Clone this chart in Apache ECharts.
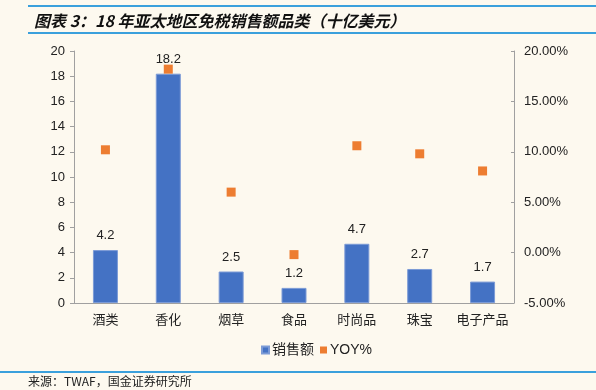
<!DOCTYPE html>
<html>
<head>
<meta charset="utf-8">
<script src="https://cdn.jsdelivr.net/npm/echarts@6/dist/echarts.min.js"></script>
<style>
  html, body { margin: 0; padding: 0; background: #fdf9ef; }
  #root { width: 596px; height: 390px; }
</style>
</head>
<body>
<div id="root"></div>
<script>
const categories = ['酒类', '香化', '烟草', '食品', '时尚品', '珠宝', '电子产品']
const sales = [4.2, 18.2, 2.5, 1.2, 4.7, 2.7, 1.7]
const yoy = [10.2, 18.2, 6.0, -0.2, 10.6, 9.8, 8.1]

const font = '"Liberation Sans", "Noto Sans CJK SC", sans-serif'
const lineBlue = '#3aa0dc'

const chart = echarts.init(document.getElementById('root'))

const option = {
  backgroundColor: '#fdf9ef',
  animation: false,
  textStyle: { fontFamily: font },
  title: {
    text: '图表 3：18 年亚太地区免税销售额品类（十亿美元）',
    left: 29,
    top: 8,
    textStyle: {
      fontFamily: '"Noto Sans CJK SC", sans-serif',
      fontSize: 16,
      fontStyle: 'italic',
      fontWeight: 'bold',
      color: '#111'
    }
  },
  graphic: [
    { type: 'rect', shape: { x: 28, y: 5, width: 568, height: 2 }, style: { fill: lineBlue } },
    { type: 'rect', shape: { x: 28, y: 32, width: 568, height: 2 }, style: { fill: lineBlue } },
    { type: 'rect', shape: { x: 0, y: 371, width: 596, height: 2 }, style: { fill: lineBlue } },
    {
      type: 'text',
      left: 28,
      top: 375,
      style: {
        text: '来源：TWAF，国金证券研究所',
        fontFamily: '"Noto Sans CJK SC", sans-serif',
        fontSize: 12,
        fill: '#222'
      }
    }
  ],
  grid: { left: 74, right: 82, top: 51, bottom: 87 },
  legend: {
    bottom: 28,
    left: 256,
    icon: 'rect',
    itemWidth: 7,
    itemHeight: 7,
    itemGap: 6,
    textStyle: { fontSize: 14, color: '#222', padding: [0, 0, 0, -2] },
    data: ['销售额', 'YOY%']
  },
  xAxis: {
    type: 'category',
    data: categories,
    axisLine: { lineStyle: { color: '#a0a0a0' } },
    axisTick: { length: 4, lineStyle: { color: '#a0a0a0' } },
    axisLabel: { interval: 0, fontSize: 13, color: '#222', margin: 11 }
  },
  yAxis: [
    {
      type: 'value',
      min: 0,
      max: 20,
      interval: 2,
      splitLine: { show: false },
      axisLine: { show: true, lineStyle: { color: '#a0a0a0' } },
      axisTick: { show: true, length: 4, lineStyle: { color: '#a0a0a0' } },
      axisLabel: { fontSize: 13, color: '#222', margin: 9 }
    },
    {
      type: 'value',
      min: -5,
      max: 20,
      interval: 5,
      splitLine: { show: false },
      axisLine: { show: true, lineStyle: { color: '#a0a0a0' } },
      axisTick: { show: true, inside: true, length: 3, lineStyle: { color: '#a0a0a0' } },
      axisLabel: {
        fontSize: 13,
        color: '#222',
        margin: 10,
        formatter: v => v.toFixed(2) + '%'
      }
    }
  ],
  series: [
    {
      name: '销售额',
      type: 'bar',
      data: sales,
      barWidth: 25,
      itemStyle: { color: '#4472c4', borderColor: '#7c9bd6', borderWidth: 1 },
      label: { show: true, position: 'top', fontSize: 13, color: '#222', distance: 8 }
    },
    {
      name: 'YOY%',
      type: 'scatter',
      yAxisIndex: 1,
      data: yoy,
      symbol: 'rect',
      symbolSize: 9,
      itemStyle: { color: '#ed7d31', opacity: 1 },
      z: 3
    }
  ]
}

chart.setOption(option)
</script>
</body>
</html>
